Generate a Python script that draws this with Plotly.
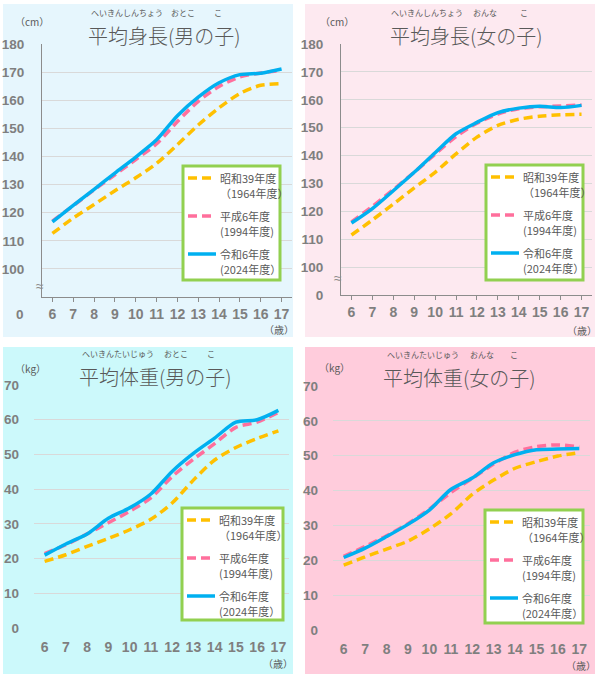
import plotly.graph_objects as go

# 学校保健統計 平均身長・平均体重（6～17歳）
ages = list(range(6, 18))
series_line1 = ["昭和39年度", "平成6年度", "令和6年度"]
series_line2 = ["（1964年度）", "(1994年度)", "(2024年度）"]

boys_height_1964 = [112.6, 118.1, 122.9, 127.8, 132.4, 137.5, 144.2, 151.2, 157.3, 162.4, 165.3, 165.9]
boys_height_1994 = [117.0, 122.5, 128.1, 133.5, 138.9, 144.5, 152.4, 159.6, 164.9, 168.3, 169.7, 170.6]
boys_height_2024 = [116.7, 122.6, 128.3, 134.1, 139.8, 145.9, 154.5, 161.1, 166.2, 169.1, 169.6, 171.1]

girls_height_1964 = [111.5, 116.9, 122.6, 128.4, 134.0, 140.6, 146.6, 150.8, 153.0, 154.1, 154.6, 154.8]
girls_height_1994 = [116.2, 121.8, 127.8, 134.0, 140.5, 146.8, 151.6, 154.9, 156.8, 157.5, 157.8, 158.1]
girls_height_2024 = [115.8, 121.0, 127.4, 134.0, 141.0, 147.8, 151.9, 155.4, 157.0, 157.7, 157.2, 158.0]

boys_weight_1964 = [19.2, 21.1, 23.5, 25.8, 28.3, 31.3, 36.0, 42.6, 48.4, 52.0, 54.6, 56.8]
boys_weight_1994 = [21.4, 24.0, 27.1, 30.3, 33.6, 37.5, 43.6, 48.6, 53.1, 57.8, 59.3, 62.1]
boys_weight_2024 = [21.0, 24.2, 27.1, 31.6, 34.6, 38.6, 45.1, 50.3, 54.7, 59.3, 60.0, 62.7]

girls_weight_1964 = [18.6, 21.0, 23.2, 25.5, 29.0, 33.3, 38.9, 43.0, 46.4, 48.3, 49.9, 50.9]
girls_weight_1994 = [21.1, 24.0, 27.0, 30.5, 34.7, 39.4, 43.5, 47.6, 51.0, 52.6, 53.1, 52.5]
girls_weight_2024 = [20.8, 23.5, 26.8, 30.3, 34.4, 40.3, 43.6, 48.0, 50.3, 51.7, 51.9, 52.1]

height_ticks = list(range(90, 190, 10))
weight_ticks = list(range(0, 80, 10))

W, H = 597, 678
JP = "Noto Sans CJK JP"
NUM = "Liberation Sans, Arial"
GRAY_TXT = "#595959"
TICK_TXT = "#7F7F7F"

def px(x):
    return x / W

def py(y):
    return 1 - y / H

colors = ["#FFC000", "#FF6F9C", "#00B0F0"]
dashes = ["9px,5px", "9px,5px", "solid"]

panels = [
    # key, data, bg, panel box, plot box, legend box, kind
    ("1", [boys_height_1964, boys_height_1994, boys_height_2024], "#E6F6FD",
     (3, 4, 293, 337), (42, 44, 292, 297), (183, 166, 280, 280), "h"),
    ("2", [girls_height_1964, girls_height_1994, girls_height_2024], "#FDE9F0",
     (305, 4, 595, 337), (341, 44, 592, 295), (486, 165, 583, 280), "h"),
    ("3", [boys_weight_1964, boys_weight_1994, boys_weight_2024], "#CCF9FB",
     (3, 347, 293, 674), (34, 385, 289, 628), (182, 508, 283, 620), "w"),
    ("4", [girls_weight_1964, girls_weight_1994, girls_weight_2024], "#FFCCDC",
     (305, 347, 595, 674), (333, 386, 590, 630), (485, 510, 583, 623), "w"),
]

fig = go.Figure()
layout = dict(
    width=W, height=H,
    margin=dict(l=0, r=0, t=0, b=0, autoexpand=False),
    paper_bgcolor="white",
    plot_bgcolor="white",
    showlegend=False,
    shapes=[], annotations=[],
)

def note(x, y, text, size, color=GRAY_TXT, family=JP, xanchor="center",
         yanchor="middle", weight="normal"):
    layout["annotations"].append(dict(
        xref="paper", yref="paper", x=px(x), y=py(y), text=text,
        showarrow=False, xanchor=xanchor, yanchor=yanchor,
        font=dict(family=family, size=size, color=color, weight=weight),
    ))

for key, data, bg, pbox, abox, lbox, kind in panels:
    sfx = "" if key == "1" else key
    for i, vals in enumerate(data):
        fig.add_trace(go.Scatter(
            x=ages, y=vals, mode="lines",
            name=series_line1[i] + series_line2[i],
            line=dict(color=colors[i], width=3.5, dash=dashes[i], shape="spline", smoothing=0.8),
            xaxis="x" + sfx, yaxis="y" + sfx,
            hoverinfo="skip",
        ))

    layout["shapes"].append(dict(
        type="rect", xref="paper", yref="paper", layer="below",
        x0=px(pbox[0]), x1=px(pbox[2]), y0=py(pbox[3]), y1=py(pbox[1]),
        fillcolor=bg, line=dict(width=0),
    ))

    xa = dict(
        domain=[px(abox[0]), px(abox[2])],
        anchor="y" + sfx, range=[5.5, 17.5],
        tickvals=ages, showgrid=False, zeroline=False, automargin=False,
        tickfont=dict(family=NUM, size=14, color=TICK_TXT, weight="bold"),
        fixedrange=True,
    )
    ya = dict(
        domain=[py(abox[3]), py(abox[1])],
        anchor="x" + sfx, zeroline=False, automargin=False,
        gridcolor="#D9D9D9", gridwidth=1,
        tickfont=dict(family=NUM, size=13.5, color=TICK_TXT, weight="bold"),
        ticklabelstandoff=14, fixedrange=True,
    )
    if kind == "h":
        xa.update(showline=True, linecolor="#8C8C8C", linewidth=1,
                  ticks="outside", ticklen=4, tickcolor="#8C8C8C", ticklabelstandoff=0)
        ya.update(range=[90, 180], tickvals=height_ticks,
                  ticktext=[("0" if key == "2" else "")] + [str(v) for v in height_ticks[1:]],
                  showline=True, linecolor="#8C8C8C", linewidth=1)
    else:
        xa.update(showline=False, ticks="", ticklabelstandoff=9)
        ya.update(range=[0, 70], tickvals=weight_ticks, showline=False)
    layout["xaxis" + sfx] = xa
    layout["yaxis" + sfx] = ya

    # legend box
    bx0, by0, bx1, by1 = lbox
    layout["shapes"].append(dict(
        type="rect", xref="paper", yref="paper",
        x0=px(bx0), x1=px(bx1), y0=py(by1), y1=py(by0),
        fillcolor="white", line=dict(color="#92D050", width=3),
    ))
    for i in range(3):
        ry = by0 + 12 + i * 38
        layout["shapes"].append(dict(
            type="line", xref="paper", yref="paper",
            x0=px(bx0 + 5), x1=px(bx0 + 33), y0=py(ry), y1=py(ry),
            line=dict(color=colors[i], width=3.5, dash=dashes[i]),
        ))
        note(bx0 + 35, ry, series_line1[i], 11, xanchor="left")
        note(bx0 + 35, ry + 15, series_line2[i], 11, xanchor="left")

# titles (top-anchored) with furigana (bottom-anchored) sharing one baseline
def title(cx, top, text, rubies):
    note(cx, top, text, 20, yanchor="top", weight=300)
    for rx, rt in rubies:
        note(rx, top + 1, rt, 8, yanchor="bottom")

title(165, 19, "平均身長(男の子)", [(127, "へいきんしんちょう"), (183, "おとこ"), (218, "こ")])
title(466, 19, "平均身長(女の子)", [(427, "へいきんしんちょう"), (485, "おんな"), (524, "こ")])
title(155, 360, "平均体重(男の子)", [(118, "へいきんたいじゅう"), (176, "おとこ"), (211, "こ")])
title(459, 361, "平均体重(女の子)", [(423, "へいきんたいじゅう"), (482, "おんな"), (514, "こ")])

# units
note(32, 21, "（cm）", 10)
note(337, 21, "（cm）", 10)
note(30, 369, "（kg）", 10)
note(334, 367, "（kg）", 10)
note(279, 329, "（歳）", 10)
note(582, 330, "（歳）", 10)
note(278, 663, "（歳）", 10)
note(581, 665, "（歳）", 10)

# axis break marks and the "0" of the broken height axis
note(40, 286, "≈", 14, color="#8C8C8C", family=NUM)
note(338, 278, "≈", 14, color="#8C8C8C", family=NUM)
note(20, 314, "0", 13.5, color=TICK_TXT, family=NUM, weight="bold")

fig.update_layout(**layout)

# page body margin off so the 597x678 figure fills the window exactly
fig.write_html("out.html", config={"displayModeBar": False},
               post_script="document.body.style.margin='0';")
